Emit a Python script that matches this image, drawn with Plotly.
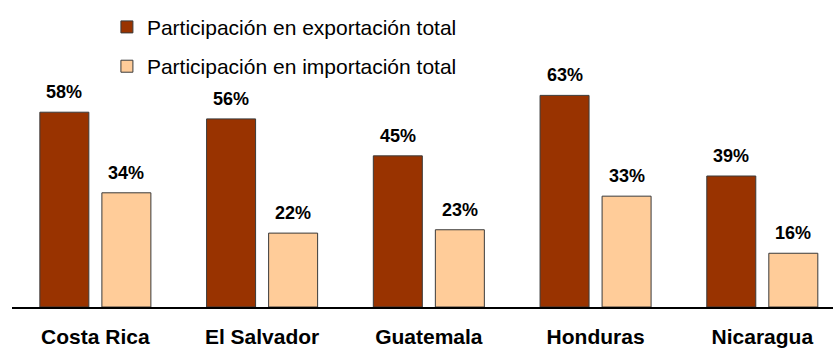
import plotly.graph_objects as go

paises = ["Costa Rica", "El Salvador", "Guatemala", "Honduras", "Nicaragua"]
exportacion = [58, 56, 45, 63, 39]
importacion = [34, 22, 23, 33, 16]
nombre_exp = "Participación en exportación total"
nombre_imp = "Participación en importación total"

COLOR_EXP = "#993300"
COLOR_IMP = "#FFCC99"
BORDE = "#3a3a3a"
FUENTE = "Liberation Sans, Arial, sans-serif"

fig = go.Figure()
fig.add_trace(go.Bar(
    x=paises, y=exportacion, name=nombre_exp, legendgroup="exp",
    marker=dict(color=COLOR_EXP, line=dict(color=BORDE, width=1)),
))
fig.add_trace(go.Bar(
    x=paises, y=importacion, name=nombre_imp, legendgroup="imp",
    marker=dict(color=COLOR_IMP, line=dict(color=BORDE, width=1)),
))

# value labels above each bar
annotations = []
for serie, shift in ((exportacion, -31), (importacion, 31)):
    for pais, v in zip(paises, serie):
        annotations.append(dict(
            x=pais, y=v, xref="x", yref="y", text=f"<b>{v}%</b>",
            showarrow=False, xshift=shift, yanchor="bottom", yshift=8,
            font=dict(family=FUENTE, size=18, color="black"),
        ))

fig.update_layout(
    width=833, height=348,
    margin=dict(l=12, r=0, t=0, b=41),
    paper_bgcolor="white", plot_bgcolor="white",
    barmode="group", bargap=0.256, bargroupgap=0.21,
    showlegend=True,
    legend=dict(
        x=0.1156, y=0.978, xanchor="left", yanchor="top",
        font=dict(family=FUENTE, size=21, color="black"),
        bgcolor="rgba(0,0,0,0)", tracegroupgap=9,
        traceorder="grouped",
    ),
    xaxis=dict(
        range=[-0.5, 4.424], showline=True, linecolor="black", linewidth=2,
        showgrid=False, zeroline=False, ticks="", automargin=False,
        tickfont=dict(family=FUENTE, size=21, color="black"),
        tickvals=paises, ticktext=[f"<b>{p}</b>" for p in paises],
        ticklabelstandoff=10,
    ),
    yaxis=dict(range=[0, 91.4], visible=False, automargin=False),
    annotations=annotations,
    font=dict(family=FUENTE),
)

fig.write_html("out.html")
